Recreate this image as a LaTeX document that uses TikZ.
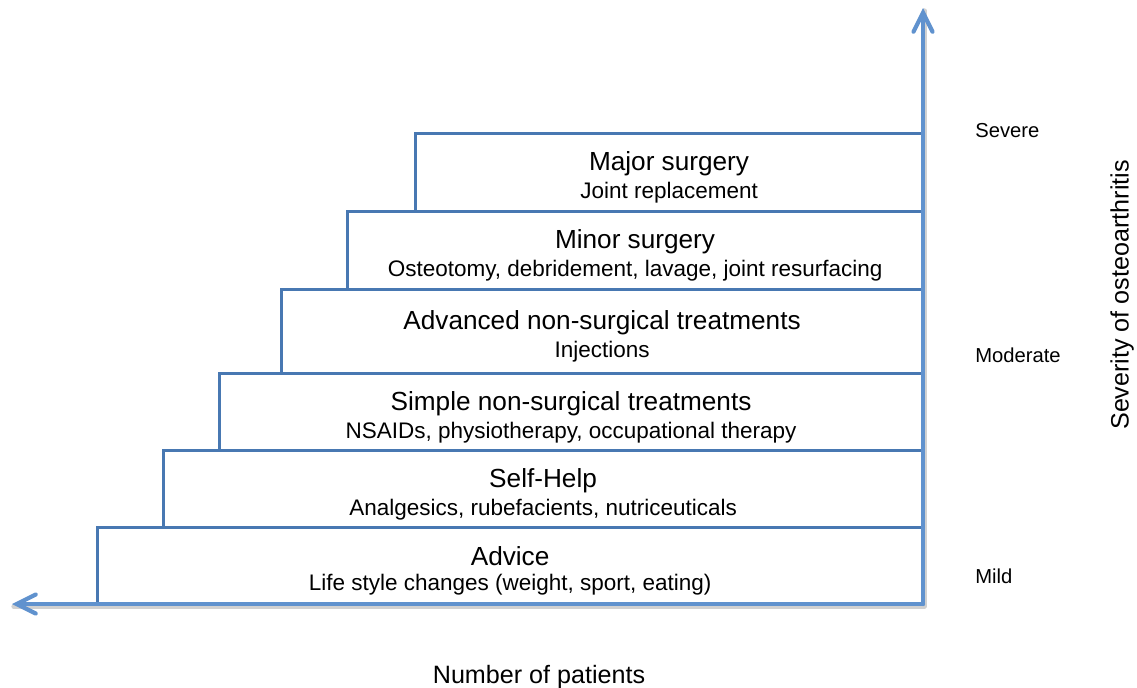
\documentclass[tikz,border=0pt]{standalone}
\usepackage{fontspec}
\setmainfont{Liberation Sans}
\usetikzlibrary{arrows.meta,positioning}

\definecolor{stairblue}{RGB}{72,120,178}
\definecolor{axisblue}{RGB}{96,146,206}

% title line and detail line of one step
\newcommand{\stepcap}[2]{{\fontsize{14.9}{17}\selectfont\rule{0pt}{17pt}#1}\\[2.5pt]{\fontsize{12.8}{15}\selectfont #2}}

\begin{document}
\begin{tikzpicture}[
  x=0.02cm,y=-0.02cm,
  stepbox/.style={draw=stairblue,line width=1.7pt,outer sep=0pt,inner sep=0pt,
    minimum height=1.54cm,anchor=south east,align=center},
  axis/.style={draw=axisblue,line width=2.4pt,line cap=round,
    -{Straight Barb[length=3.8mm,width=3.8mm,line cap=round]}},
  shade/.style={draw=black!18,line width=2.4pt,line cap=round},
  level/.style={anchor=base west,inner xsep=0pt,font=\fontsize{11.5}{13}\selectfont},
  axlabel/.style={font=\fontsize{14.3}{17}\selectfont}
]
  \useasboundingbox (0,0) rectangle (1137,687);

  \coordinate (origin) at (923,604);
  \coordinate (xend) at (12,604);
  \coordinate (yend) at (923,8);

  % the stairs, bottom to top
  \node[stepbox,minimum width=16.52cm] (advice) at (origin)
    {\stepcap{Advice}{Life style changes (weight, sport, eating)}};
  \node[stepbox,minimum width=15.2cm] (selfhelp) at (advice.north east)
    {\stepcap{Self-Help}{Analgesics, rubefacients, nutriceuticals}};
  \node[stepbox,minimum width=14.08cm] (simple) at (selfhelp.north east)
    {\stepcap{Simple non-surgical treatments}{NSAIDs, physiotherapy, occupational therapy}};
  \node[stepbox,minimum width=12.84cm,minimum height=1.68cm] (advanced) at (simple.north east)
    {\stepcap{Advanced non-surgical treatments}{Injections}};
  \node[stepbox,minimum width=11.52cm,minimum height=1.56cm] (minor) at (advanced.north east)
    {\stepcap{Minor surgery}{Osteotomy, debridement, lavage, joint resurfacing}};
  \node[stepbox,minimum width=10.16cm,minimum height=1.56cm] (major) at (minor.north east)
    {\stepcap{Major surgery}{Joint replacement}};

  % axes
  \draw[shade] ([shift={(1.5,2.5)}]origin) -- ([shift={(1.5,2.5)}]xend);
  \draw[shade] ([shift={(1.5,2.5)}]origin) -- ([shift={(1.5,2.5)}]yend);
  \draw[axis] (origin) -- (xend);
  \draw[axis] (origin) -- (yend);

  % severity levels
  \node[level] (severe) at (975,137) {Severe};
  \node[level] (moderate) at (975,362) {Moderate};
  \node[level] (mild) at (975,583) {Mild};

  \node[axlabel,rotate=90] (severity) at (1122,295) {Severity of osteoarthritis};
  \node[axlabel,anchor=base] (patients) at (539,683) {Number of patients};
\end{tikzpicture}
\end{document}
